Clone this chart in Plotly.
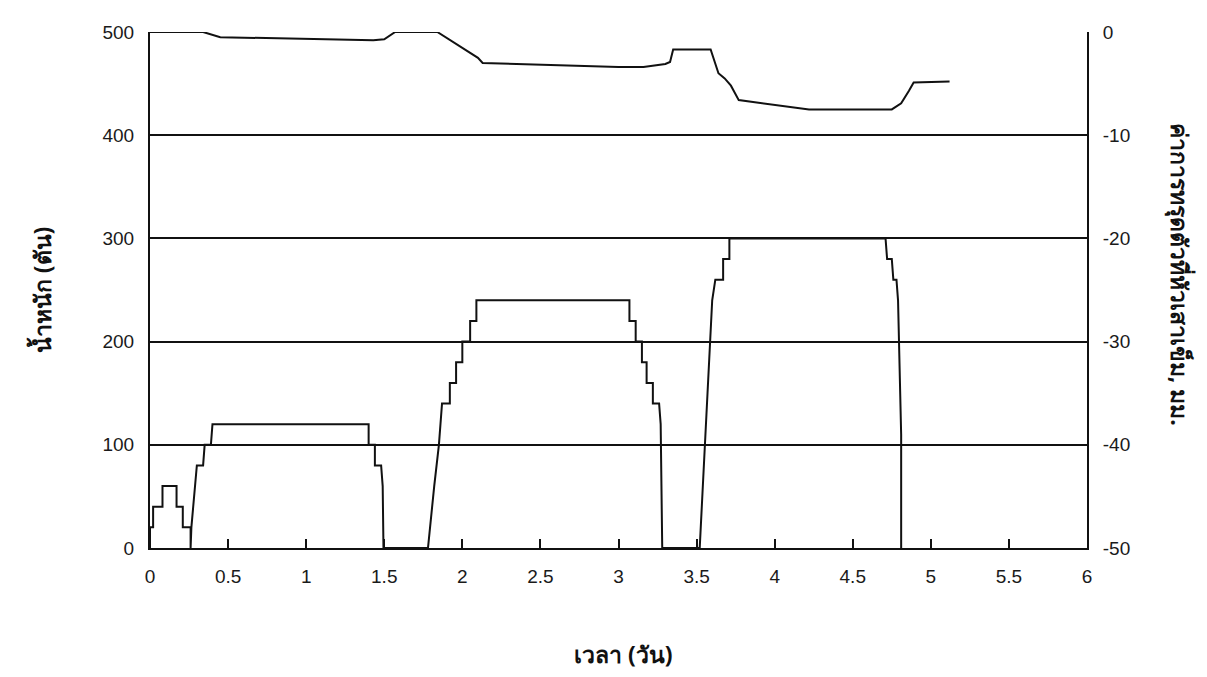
import plotly.graph_objects as go

# Time axis (days) and applied load (tonnes) for the pile load test
load_time = [0.00, 0.00, 0.02, 0.02, 0.08, 0.08, 0.17, 0.17, 0.21, 0.21, 0.26, 0.26,
             0.265, 0.29, 0.30, 0.34, 0.35, 0.39, 0.40,
             1.40, 1.40, 1.44, 1.44, 1.48, 1.49, 1.495,
             1.78, 1.82, 1.85, 1.87, 1.92, 1.92, 1.96, 1.96, 2.00, 2.00, 2.05, 2.05, 2.09, 2.09,
             3.07, 3.07, 3.11, 3.11, 3.15, 3.15, 3.18, 3.18, 3.22, 3.22, 3.26, 3.27, 3.28,
             3.52, 3.54, 3.56, 3.58, 3.60, 3.62, 3.67, 3.67, 3.71, 3.71,
             4.71, 4.72, 4.75, 4.76, 4.78, 4.79, 4.80, 4.81, 4.81]
load_tons = [0, 20, 20, 40, 40, 60, 60, 40, 40, 20, 20, 0,
             20, 60, 80, 80, 100, 100, 120,
             120, 100, 100, 80, 80, 60, 0,
             0, 60, 100, 140, 140, 160, 160, 180, 180, 200, 200, 220, 220, 240,
             240, 220, 220, 200, 200, 180, 180, 160, 160, 140, 140, 120, 0,
             0, 60, 120, 180, 240, 260, 260, 280, 280, 300,
             300, 280, 280, 260, 260, 240, 170, 110, 0]

# Settlement of the pile head (mm)
settle_time = [0.00, 0.34, 0.45, 0.80, 1.22, 1.43, 1.50, 1.56, 1.57, 1.84,
               2.10, 2.13, 2.50, 3.00, 3.16, 3.30, 3.33, 3.35, 3.59, 3.64,
               3.68, 3.72, 3.77, 3.96, 4.22, 4.75, 4.81, 4.86, 4.89, 5.12]
settle_mm = [0.0, 0.0, -0.5, -0.6, -0.75, -0.8, -0.7, -0.1, 0.0, 0.0,
             -2.5, -3.0, -3.2, -3.4, -3.4, -3.1, -2.9, -1.7, -1.7, -4.0,
             -4.5, -5.2, -6.6, -7.0, -7.5, -7.5, -6.9, -5.7, -4.9, -4.8]

x_ticks = [0, 0.5, 1, 1.5, 2, 2.5, 3, 3.5, 4, 4.5, 5, 5.5, 6]
x_ticktext = ["0", "0.5", "1", "1.5", "2", "2.5", "3", "3.5", "4", "4.5", "5", "5.5", "6"]
load_ticks = [0, 100, 200, 300, 400, 500]
settle_ticks = [0, -10, -20, -30, -40, -50]
settle_ticktext = ["0", "-10", "-20", "-30", "-40", "-50"]

tick_font = dict(family="Liberation Sans, Arial, sans-serif", size=19, color="#1a1a1a")
title_font = dict(family="Noto Sans, sans-serif", size=23, color="#111", weight="bold")

fig = go.Figure()
fig.add_trace(go.Scatter(x=load_time, y=load_tons, mode="lines",
                         line=dict(color="#111", width=2), showlegend=False))
fig.add_trace(go.Scatter(x=settle_time, y=settle_mm, mode="lines", yaxis="y2",
                         line=dict(color="#111", width=2), showlegend=False))

fig.update_layout(
    width=1207, height=677,
    margin=dict(l=150, r=120, t=32, b=129),
    paper_bgcolor="white", plot_bgcolor="white",
    xaxis=dict(range=[0, 6], tickvals=x_ticks, ticktext=x_ticktext,
               ticks="inside", ticklen=9, tickwidth=2, tickcolor="#111",
               showline=True, linecolor="#111", linewidth=2,
               showgrid=False, zeroline=False, tickfont=tick_font,
               ticklabelstandoff=10),
    yaxis=dict(range=[0, 500], tickvals=load_ticks,
               showline=True, linecolor="#111", linewidth=2,
               showgrid=True, gridcolor="#111", gridwidth=1.8,
               zeroline=False, ticks="", tickfont=tick_font,
               ticklabelstandoff=10),
    yaxis2=dict(range=[-50, 0], tickvals=settle_ticks, ticktext=settle_ticktext,
                overlaying="y", side="right",
                showline=True, linecolor="#111", linewidth=2,
                showgrid=False, zeroline=False, ticks="", tickfont=tick_font,
                ticklabelstandoff=10),
    annotations=[
        dict(text="น้ำหนัก (ตัน)", xref="paper", yref="paper", x=-0.115, y=0.5,
             textangle=-90, showarrow=False, font=title_font,
             xanchor="center", yanchor="middle"),
        dict(text="ค่าการทรุดตัวที่หัวเสาเข็ม, มม.", xref="paper", yref="paper",
             x=1.1, y=0.53, textangle=90, showarrow=False, font=title_font,
             xanchor="center", yanchor="middle"),
        dict(text="เวลา (วัน)", xref="paper", yref="paper", x=0.505, y=-0.205,
             showarrow=False, font=title_font, xanchor="center", yanchor="middle"),
    ],
)

fig.write_html("out.html")
